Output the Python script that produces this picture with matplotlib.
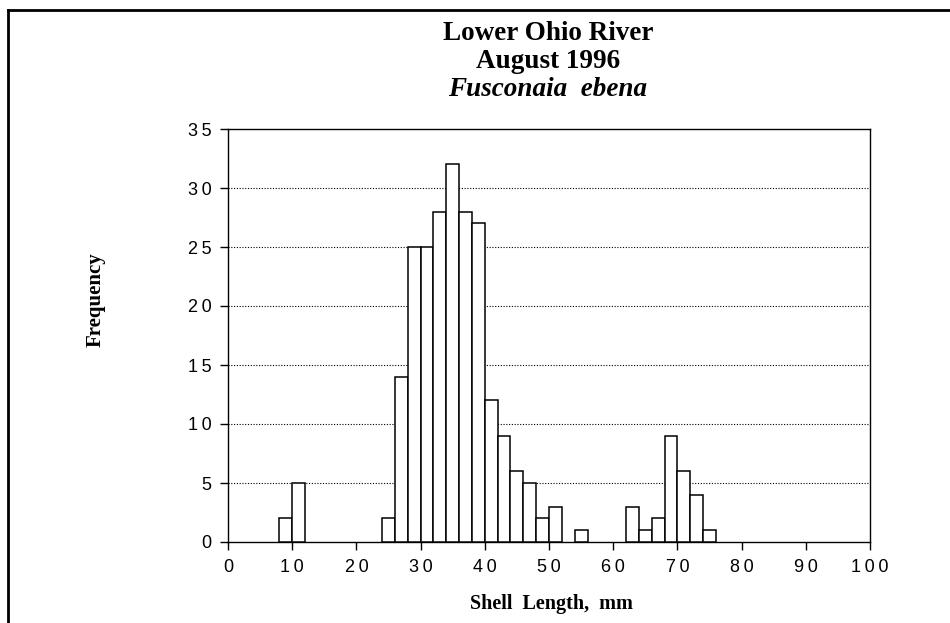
import matplotlib

matplotlib.use("Agg")
import matplotlib.pyplot as plt
from matplotlib.lines import Line2D

# shell length bins (left edge, mm) and counts
bin_left = [8, 10, 24, 26, 28, 30, 32, 34, 36, 38, 40, 42, 44, 46, 48, 50, 54,
            62, 64, 66, 68, 70, 72, 74]
counts = [2, 5, 2, 14, 25, 25, 28, 32, 28, 27, 12, 9, 6, 5, 2, 3, 1,
          3, 1, 2, 9, 6, 4, 1]
bin_width = 2

x_ticks = list(range(0, 101, 10))
y_ticks = list(range(0, 36, 5))

title_lines = ["Lower Ohio River", "August 1996", "Fusconaia  ebena"]

serif = ["Liberation Serif", "DejaVu Serif"]
sans = ["Liberation Sans", "DejaVu Sans"]


def spaced(n):
    # the original typesets tick digits with loose letter spacing
    return "\u2009".join(str(n))


fig = plt.figure(figsize=(9.5, 6.23), dpi=100)
ax = fig.add_axes([228 / 950, 1 - 542 / 623, (870 - 228) / 950, (542 - 129) / 623])

ax.bar(bin_left, counts, width=bin_width, align="edge",
       facecolor="white", edgecolor="black", linewidth=1.1, zorder=3)

ax.set_xlim(0, 100)
ax.set_ylim(0, 35)
ax.set_xticks(x_ticks)
ax.set_yticks(y_ticks)
ax.set_xticklabels([spaced(t) for t in x_ticks], fontfamily=sans, fontsize=13)
ax.set_yticklabels([spaced(t) for t in y_ticks], fontfamily=sans, fontsize=13)
ax.tick_params(direction="out", length=6, width=1, pad=6)

for y in y_ticks[1:-1]:
    ax.axhline(y, color="black", linestyle=(0, (1, 1.5)), linewidth=0.8, zorder=1)

for s in ax.spines.values():
    s.set_linewidth(1)

fig.text(551 / 950, 1 - 604 / 623, "Shell  Length,  mm", ha="center", va="center",
         fontfamily=serif, fontweight="bold", fontsize=14.5)
fig.text(96 / 950, 1 - 300 / 623, "Frequency", rotation=90, ha="center",
         va="center", fontfamily=serif, fontweight="bold", fontsize=15)

fig.text(548 / 950, 1 - 34 / 623, title_lines[0], ha="center", va="center",
         fontfamily=serif, fontweight="bold", fontsize=19.5)
fig.text(548 / 950, 1 - 61 / 623, title_lines[1], ha="center", va="center",
         fontfamily=serif, fontweight="bold", fontsize=19.5)
fig.text(548 / 950, 1 - 89 / 623, title_lines[2], ha="center", va="center",
         fontfamily=serif, fontweight="bold", fontstyle="italic", fontsize=19.5)

# page frame, top and left edges only
fig.add_artist(Line2D([8 / 950, 1], [1 - 10 / 623, 1 - 10 / 623], color="black", linewidth=2))
fig.add_artist(Line2D([8 / 950, 8 / 950], [0, 1 - 10 / 623], color="black", linewidth=2))

fig.savefig("out.png", dpi=100)
